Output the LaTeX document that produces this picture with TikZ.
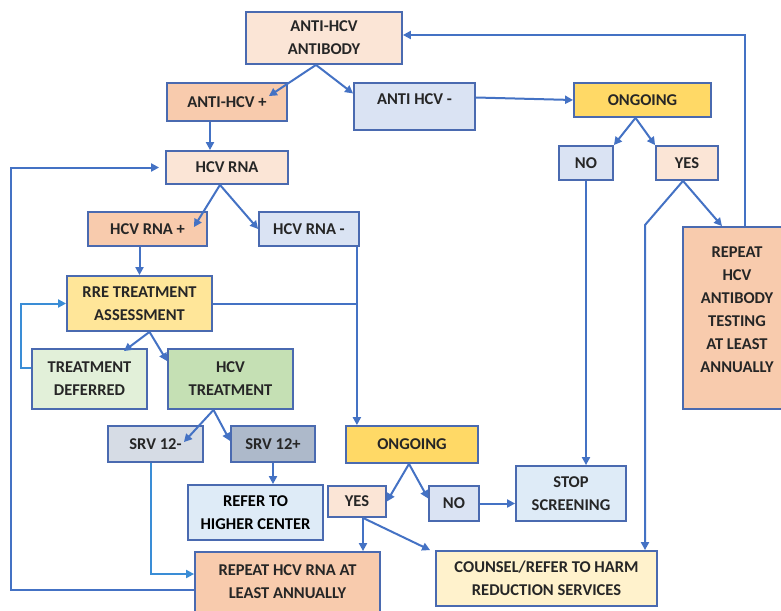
\documentclass[tikz,border=0pt]{standalone}
\usepackage{fontspec}
\newfontfamily\boxfont{Carlito}
\usepackage{tikz}
\usetikzlibrary{arrows.meta}
\definecolor{boxline}{HTML}{4A6AB0}
\definecolor{flow}{HTML}{4472C4}
\definecolor{backblue}{HTML}{3A8DD6}
\definecolor{txt}{HTML}{262626}
\definecolor{peach}{HTML}{FBE5D6}
\definecolor{salmon}{HTML}{F8CBAD}
\definecolor{greyblue}{HTML}{DAE3F3}
\definecolor{gold}{HTML}{FFD966}
\definecolor{lightgold}{HTML}{FFE699}
\definecolor{cream}{HTML}{FFF2CC}
\definecolor{palegreen}{HTML}{E2F0D9}
\definecolor{midgreen}{HTML}{C5E0B4}
\definecolor{slate}{HTML}{D6DCE5}
\definecolor{darkslate}{HTML}{ADB9CA}
\definecolor{skyblue}{HTML}{DEEBF7}

\begin{document}
\begin{tikzpicture}[x=1pt, y=-1pt,
  box/.style={draw=boxline, line width=1.8pt, inner sep=1pt, align=center, text=txt,
    font=\boxfont\bfseries\fontsize{16.5}{23}\selectfont},
  conn/.style={draw=flow, line width=2pt, -{Triangle[length=8pt,width=8pt]}},
  plain/.style={draw=flow, line width=2pt},
  backflow/.style={conn, draw=backblue}]
\clip (0,0) rectangle (781,610);
\node[box, fill=peach, minimum width=156pt, minimum height=52pt] (antibody) at (324,38) {ANTI-HCV\\ANTIBODY};
\node[box, fill=salmon, minimum width=120pt, minimum height=38pt] (ahcvpos) at (227,102) {ANTI-HCV +};
\node[box, fill=greyblue, minimum width=121pt, minimum height=47pt, text height=12pt, text depth=17pt] (ahcvneg) at (414.5,106.5) {ANTI HCV -};
\node[box, fill=gold, minimum width=137pt, minimum height=34pt] (ongoingtop) at (642.5,100) {ONGOING};
\node[box, fill=greyblue, minimum width=54pt, minimum height=34pt] (notop) at (586,163) {NO};
\node[box, fill=peach, minimum width=62pt, minimum height=34pt] (yestop) at (687,163) {YES};
\node[box, fill=salmon, minimum width=108pt, minimum height=182pt, text depth=16pt] (repeatab) at (737,318) {REPEAT\\HCV\\ANTIBODY\\TESTING\\AT LEAST\\ANNUALLY};
\node[box, fill=peach, minimum width=122pt, minimum height=33pt] (hcvrna) at (227,167.5) {HCV RNA};
\node[box, fill=salmon, minimum width=119pt, minimum height=34pt] (rnapos) at (147.5,229) {HCV RNA +};
\node[box, fill=greyblue, minimum width=100pt, minimum height=34pt] (rnaneg) at (309,229) {HCV RNA -};
\node[box, fill=lightgold, minimum width=145pt, minimum height=55pt] (rre) at (139.5,303.5) {RRE TREATMENT\\ASSESSMENT};
\node[box, fill=palegreen, minimum width=115pt, minimum height=60pt] (deferred) at (89.5,379) {TREATMENT\\DEFERRED};
\node[box, fill=midgreen, minimum width=125pt, minimum height=60pt] (hcvtx) at (230.5,379) {HCV\\TREATMENT};
\node[box, fill=slate, minimum width=95pt, minimum height=36pt] (srvneg) at (155.5,444) {SRV 12-};
\node[box, fill=darkslate, minimum width=84pt, minimum height=36pt] (srvpos) at (273,444) {SRV 12+};
\node[box, fill=skyblue, minimum width=135pt, minimum height=55pt, text=black] (refer) at (255.5,512.5) {REFER TO\\HIGHER CENTER};
\node[box, fill=salmon, minimum width=185pt, minimum height=60pt] (repeatrna) at (287.5,582) {REPEAT HCV RNA AT\\LEAST ANNUALLY};
\node[box, fill=gold, minimum width=132pt, minimum height=37pt] (ongoingbot) at (412,444.5) {ONGOING};
\node[box, fill=peach, minimum width=58pt, minimum height=31pt] (yesbot) at (357,501.5) {YES};
\node[box, fill=greyblue, minimum width=50pt, minimum height=35pt] (nobot) at (454,503.5) {NO};
\node[box, fill=skyblue, minimum width=110pt, minimum height=55pt] (stop) at (571,493.5) {STOP\\SCREENING};
\node[box, fill=cream, minimum width=221pt, minimum height=55pt] (counsel) at (546.5,578.5) {COUNSEL/REFER TO HARM\\REDUCTION SERVICES};
\coordinate (bend) at (645,225);
\coordinate (rnadown) at ([xshift=-3pt]rnaneg.south east);
\draw[conn] ([xshift=-8pt]antibody.south) -- ([xshift=-19pt,yshift=-14pt]ahcvpos.north east);
\draw[conn] ([xshift=-8pt]antibody.south) -- ([yshift=13pt]ahcvneg.west);
\draw[conn] ([xshift=8pt]repeatab.north) |- ([yshift=3pt]antibody.east);
\draw[conn] ([yshift=9pt]ahcvneg.east) -- (ongoingtop.west);
\draw[conn] ([xshift=-7pt]ongoingtop.south) -- (notop.north east);
\draw[conn] ([xshift=-7pt]ongoingtop.south) -- (yestop.north west);
\draw[conn] (notop.south) -- (notop.south |- stop.north);
\draw[conn] ([xshift=-4pt]yestop.south) -- (bend) -- (bend |- counsel.north);
\draw[conn] ([xshift=-4pt]yestop.south) -- ([xshift=-15pt]repeatab.north);
\draw[conn] ([xshift=-17pt]ahcvpos.south) -- ([xshift=-17pt]hcvrna.north);
\draw[conn] ([xshift=-7pt]hcvrna.south) -- ([xshift=-14pt,yshift=-16pt]rnapos.north east);
\draw[conn] ([xshift=-7pt]hcvrna.south) -- (rnaneg.west);
\draw[conn] (rre.north |- rnapos.south) -- (rre.north);
\draw[conn] (rnadown) -- (rnadown |- ongoingbot.north);
\draw[plain] (rre.east) -- (rre.east -| rnadown);
\draw[conn] ([xshift=10pt]rre.south) -- ([xshift=-24pt,yshift=-3pt]deferred.north east);
\draw[conn] ([xshift=10pt]rre.south) -- ([yshift=-13pt]hcvtx.north west);
\draw[backflow] ([yshift=11pt]deferred.west) -- ++(-10,0) |- (rre.west);
\draw[conn] ([xshift=-17pt]hcvtx.south) -- ([xshift=-20pt,yshift=-17pt]srvneg.north east);
\draw[conn] ([xshift=-17pt]hcvtx.south) -- ([yshift=3pt]srvpos.west);
\draw[conn] (srvpos.south) -- (srvpos.south |- refer.north);
\draw[backflow] ([xshift=-5pt]srvneg.south) |- ([yshift=8pt]repeatrna.west);
\draw[conn] ([yshift=-8pt]repeatrna.west) -- ++(-183,0) |- ([xshift=-6pt]hcvrna.west);
\draw[conn] ([xshift=-3pt]ongoingbot.south) -- (yesbot.east);
\draw[conn] ([xshift=-3pt]ongoingbot.south) -- ([yshift=5pt]nobot.west);
\draw[conn] (nobot.east) -- (nobot.east -| stop.west);
\draw[conn] ([xshift=6pt]yesbot.south) -- ([xshift=6pt]yesbot.south |- repeatrna.north);
\draw[conn] ([xshift=6pt]yesbot.south) -- ([xshift=-5pt]counsel.north west);
\end{tikzpicture}
\end{document}
